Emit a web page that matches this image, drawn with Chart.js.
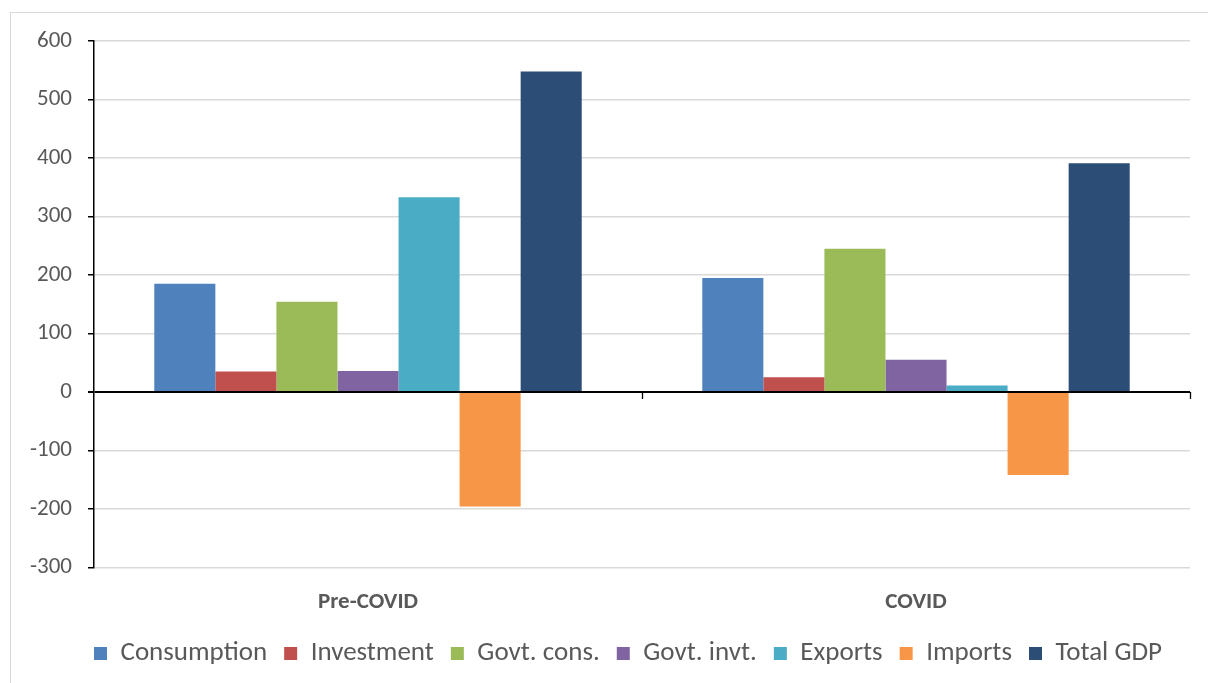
<!DOCTYPE html>
<html>
<head>
<meta charset="utf-8">
<script src="https://cdn.jsdelivr.net/npm/chart.js@4/dist/chart.umd.min.js"></script>
<style>
  html, body { margin: 0; padding: 0; background: #fff; }
  #wrap { position: relative; width: 1208px; height: 683px; }
</style>
</head>
<body>
<div id="wrap"><canvas id="chart" width="1208" height="683"></canvas></div>
<script>
// categories and series
const periods = ["Pre-COVID", "COVID"];
const seriesNames = ["Consumption", "Investment", "Govt. cons.", "Govt. invt.", "Exports", "Imports", "Total GDP"];
const consumption = [185, 195];
const investment = [35, 25];
const govtCons = [154, 245];
const govtInvt = [36, 55];
const exportsVals = [333, 11];
const importsVals = [-196, -142];
const totalGdp = [548, 391];
const yTicks = [600, 500, 400, 300, 200, 100, 0, -100, -200, -300];

const seriesValues = [consumption, investment, govtCons, govtInvt, exportsVals, importsVals, totalGdp];
const seriesColors = ["#4f81bd", "#c0504d", "#9bbb59", "#8064a2", "#4bacc6", "#f79646", "#2c4d75"];

const FONT = "Carlito, 'Open Sans', sans-serif";

// light frame round the chart, like the exported picture
const frame = {
  id: "frame",
  beforeDraw(chart) {
    const ctx = chart.ctx;
    ctx.save();
    ctx.fillStyle = "#fff";
    ctx.fillRect(0, 0, chart.width, chart.height);
    ctx.strokeStyle = "#d9d9d9";
    ctx.lineWidth = 1;
    ctx.strokeRect(10.5, 12.5, 1210, 690);
    ctx.restore();
  }
};

// the legend sits a little right of the canvas centre in the original
const legendShift = {
  id: "legendShift",
  afterLayout(chart) {
    const lg = chart.legend;
    if (!lg) return;
    lg.left += 33;
    lg.right += 33;
    lg.top -= 6;
    lg.bottom -= 6;
    (lg.legendHitBoxes || []).forEach(b => { b.left += 33; b.top -= 6; });
  }
};

// small tick marks under the zero line, between categories
const zeroTicks = {
  id: "zeroTicks",
  afterDraw(chart) {
    const x = chart.scales.x, y = chart.scales.y;
    const y0 = y.getPixelForValue(0);
    const ctx = chart.ctx;
    const marks = [];
    for (let i = 1; i < periods.length; i++) {
      marks.push((x.getPixelForTick(i - 1) + x.getPixelForTick(i)) / 2);
    }
    marks.push(chart.chartArea.right);
    ctx.save();
    ctx.strokeStyle = "#000";
    ctx.lineWidth = 1.3;
    marks.forEach(px => {
      ctx.beginPath();
      ctx.moveTo(Math.round(px) + 0.5, y0);
      ctx.lineTo(Math.round(px) + 0.5, y0 + 7);
      ctx.stroke();
    });
    ctx.restore();
  }
};

new Chart(document.getElementById("chart"), {
  type: "bar",
  plugins: [frame, legendShift, zeroTicks],
  data: {
    labels: periods,
    datasets: seriesNames.map((name, i) => ({
      label: name,
      data: seriesValues[i],
      backgroundColor: seriesColors[i],
      borderWidth: 0,
      barPercentage: 1,
      categoryPercentage: 0.78
    }))
  },
  options: {
    responsive: false,
    animation: false,
    layout: { padding: { left: 0, right: 18, top: 41, bottom: 0 } },
    plugins: {
      tooltip: { enabled: false },
      legend: {
        position: "bottom",
        labels: {
          font: { family: FONT, size: 27 },
          color: "#595959",
          boxWidth: 13,
          boxHeight: 13,
          padding: 17
        }
      }
    },
    scales: {
      x: {
        grid: { display: false },
        border: { display: false },
        ticks: {
          font: { family: FONT, size: 23, weight: "bold" },
          color: "#595959",
          padding: 13
        }
      },
      y: {
        min: -300,
        max: 600,
        afterBuildTicks: (scale) => { scale.ticks = yTicks.map(v => ({ value: v })); },
        afterFit: (scale) => { scale.width = 94; },
        border: { display: true, color: "#000", width: 1.5 },
        grid: {
          color: (c) => (c.tick && c.tick.value === 0 ? "#000" : "#d9d9d9"),
          lineWidth: (c) => (c.tick && c.tick.value === 0 ? 2 : 1.5),
          tickColor: "#000",
          tickLength: 6,
          drawTicks: true
        },
        ticks: {
          font: { family: FONT, size: 23 },
          color: "#595959",
          padding: 16
        }
      }
    }
  }
});
</script>
</body>
</html>
